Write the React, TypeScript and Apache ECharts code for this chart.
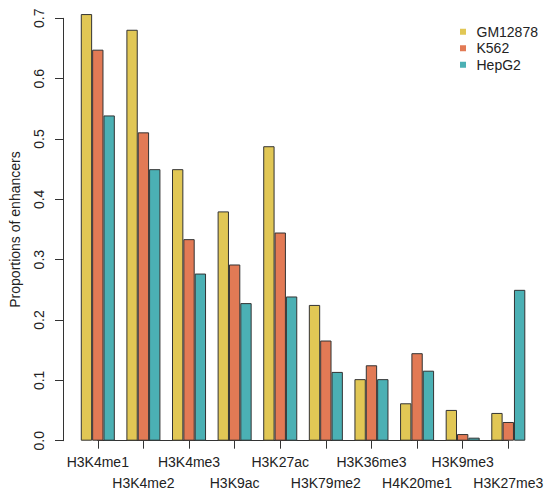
import React, { useEffect, useRef } from "react";
import * as echarts from "echarts";

const categories = [
  "H3K4me1", "H3K4me2", "H3K4me3", "H3K9ac", "H3K27ac",
  "H3K79me2", "H3K36me3", "H4K20me1", "H3K9me3", "H3K27me3",
];
const gm12878 = [0.707, 0.681, 0.450, 0.380, 0.488, 0.225, 0.102, 0.062, 0.051, 0.046];
const k562 = [0.648, 0.511, 0.334, 0.292, 0.345, 0.166, 0.125, 0.145, 0.011, 0.031];
const hepg2 = [0.539, 0.450, 0.277, 0.228, 0.239, 0.114, 0.102, 0.116, 0.005, 0.250];
const yTicks = { min: 0, max: 0.7, interval: 0.1 };

const FONT = "'Liberation Sans', Arial, Helvetica, sans-serif";
const COLORS = ["#E1C755", "#E27A55", "#4BB0B4"];

export default function App() {
  const ref = useRef<HTMLDivElement>(null);
  useEffect(() => {
    document.body.style.margin = "0";
    if (!ref.current) return;
    const chart = echarts.init(ref.current, undefined, { renderer: "svg" });
    const mk = (name: string, data: number[], i: number) => ({
      name,
      type: "bar",
      data,
      xAxisIndex: 0,
      yAxisIndex: 0,
      clip: false,
      barGap: "0%",
      barCategoryGap: "25.4%",
      itemStyle: { color: COLORS[i], borderColor: "#333", borderWidth: 1 },
    });
    chart.setOption({
      animation: false,
      textStyle: { fontFamily: FONT },
      legend: {
        orient: "vertical",
        left: 460,
        top: 23.5,
        padding: 0,
        itemGap: 0,
        icon: "rect",
        itemWidth: 6,
        itemHeight: 6,
        itemStyle: { borderWidth: 0 },
        textStyle: { fontFamily: FONT, fontSize: 14, color: "#222", lineHeight: 16.5, padding: [0, 0, 0, 5.5] },
        data: ["GM12878", "K562", "HepG2"],
      },
      grid: [
        { left: 74.9, right: 18.9, top: 18.3, bottom: 55.3 },
        { left: 97.7, right: 41.7, top: 18.3, bottom: 55.3 },
      ],
      xAxis: [
        {
          type: "category",
          gridIndex: 0,
          data: categories,
          offset: 4,
          axisLine: { show: false },
          axisTick: { show: true, length: 8, alignWithLabel: true, lineStyle: { color: "#333" } },
          axisLabel: {
            interval: 0,
            margin: 6.5,
            fontFamily: FONT,
            fontSize: 14,
            lineHeight: 21,
            color: "#222",
            formatter: (v: string, i: number) => (i % 2 === 0 ? v : "\n" + v),
          },
        },
        {
          type: "value",
          gridIndex: 1,
          min: 0,
          max: 1,
          offset: 4,
          axisLine: { show: true, lineStyle: { color: "#333" } },
          axisTick: { show: false },
          axisLabel: { show: false },
          splitLine: { show: false },
        },
      ],
      yAxis: [
        {
          type: "value",
          gridIndex: 0,
          min: yTicks.min,
          max: yTicks.max,
          interval: yTicks.interval,
          offset: 12,
          name: "Proportions of enhancers",
          nameLocation: "middle",
          nameGap: 41,
          nameTextStyle: { fontFamily: FONT, fontSize: 14, color: "#222" },
          axisLine: { show: true, lineStyle: { color: "#333" } },
          axisTick: { show: true, length: 8, lineStyle: { color: "#333" } },
          axisLabel: {
            rotate: 90,
            margin: 17,
            fontFamily: FONT,
            fontSize: 14,
            color: "#222",
            formatter: (v: number) => v.toFixed(1),
          },
          splitLine: { show: false },
        },
        { type: "value", gridIndex: 1, show: false },
      ],
      series: [mk("GM12878", gm12878, 0), mk("K562", k562, 1), mk("HepG2", hepg2, 2)],
    });
    return () => chart.dispose();
  }, []);
  return <div ref={ref} style={{ width: 550, height: 496 }} />;
}
